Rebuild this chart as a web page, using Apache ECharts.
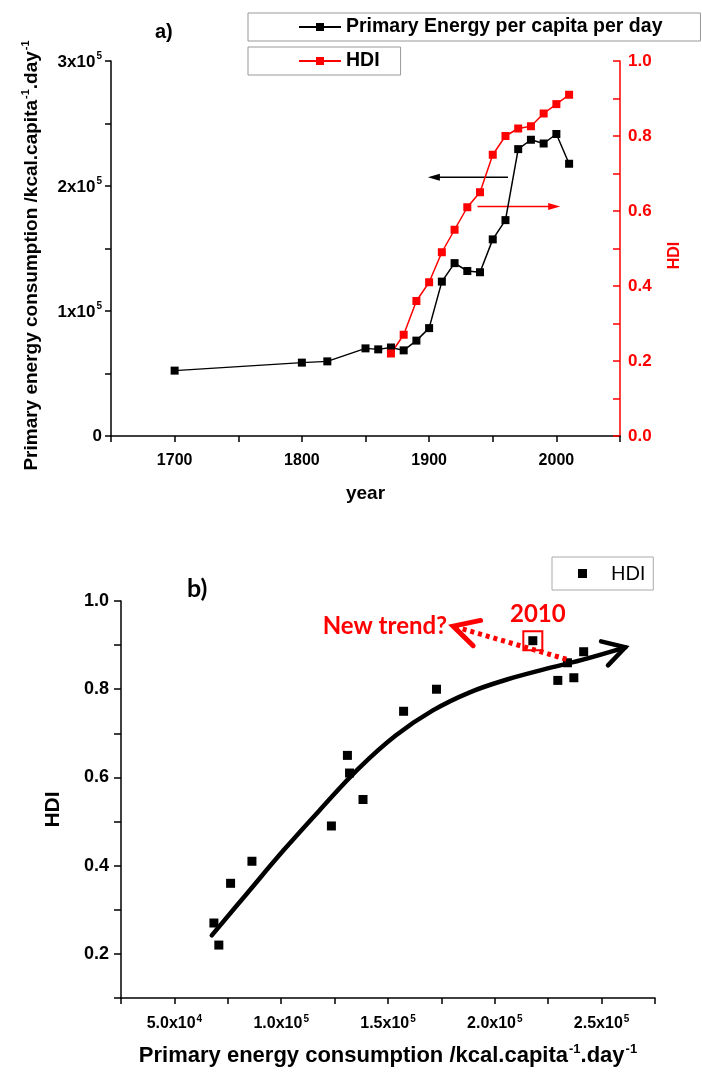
<!DOCTYPE html>
<html>
<head>
<meta charset="utf-8">
<script src="https://cdn.jsdelivr.net/npm/echarts@6/dist/echarts.min.js"></script>
<style>
  html, body { margin: 0; padding: 0; background: #ffffff; }
  #chart { width: 702px; height: 1077px; }
</style>
</head>
<body>
<div id="chart"></div>
<script>
// Primary energy use per capita per day (kcal), by year
const years  = [1700, 1800, 1820, 1850, 1860, 1870, 1880, 1890, 1900, 1910, 1920, 1930, 1940, 1950, 1960, 1970, 1980, 1990, 2000, 2010];
const energy = [52300, 58700, 59700, 70100, 69300, 70800, 68500, 76300, 86300, 123500, 138300, 132000, 131000, 157300, 172700, 229500, 237000, 234000, 241600, 217800];

// Human Development Index, by year
const hdiYears = [1870, 1880, 1890, 1900, 1910, 1920, 1930, 1940, 1950, 1960, 1970, 1980, 1990, 2000, 2010];
const hdi      = [0.22, 0.27, 0.36, 0.41, 0.49, 0.55, 0.61, 0.65, 0.75, 0.80, 0.82, 0.826, 0.86, 0.885, 0.91];

// Hand-drawn trend through the HDI vs energy cloud
const trendX = [67500, 84000, 101500, 118800, 136200, 153600, 171000, 188300, 205700, 223000, 240400, 261100];
const trendY = [0.242, 0.337, 0.437, 0.530, 0.620, 0.695, 0.752, 0.793, 0.822, 0.845, 0.866, 0.895];

// Annotation arrows (data units): [tail, tip]
const energyArrow   = [[1962, 207000], [1899, 207000]];
const hdiArrow      = [[1938, 0.612], [2003, 0.612]];
const newTrendArrow = [[233500, 0.868], [180500, 0.943]];
const newTrendText  = 'New trend?';
const highlightYear = 2010;

// Axis tick labels
const yearLabels = [1700, 1800, 1900, 2000];

const SANS = '"Liberation Sans", Arial, sans-serif';
const HUMANIST = 'Lato, "Open Sans", sans-serif';
const RED = '#ff0000';

const energySeries = years.map((y, i) => [y, energy[i]]);
const hdiSeries = hdiYears.map((y, i) => [y, hdi[i]]);
const scatterPairs = hdiYears.map((y, i) => [energy[years.indexOf(y)], hdi[i], y]);
const highlightPair = scatterPairs.filter(p => p[2] === highlightYear);
const trendSeries = trendX.map((x, i) => [x, trendY[i]]);
const nT = trendSeries.length;

function sciLabel(v, digits) {
  if (v === 0) return '0';
  const e = Math.floor(Math.log10(v) + 1e-9);
  const m = v / Math.pow(10, e);
  return '{b|' + m.toFixed(digits) + 'x10}{s|' + e + '}';
}

// Rich styles: "b" main text, "s" raised superscript
function supRich(size, supSize, color, lift) {
  return {
    b: { fontFamily: SANS, fontWeight: 'bold', fontSize: size, lineHeight: size + lift, color: color, verticalAlign: 'bottom' },
    s: { fontFamily: SANS, fontWeight: 'bold', fontSize: supSize, lineHeight: supSize, color: color, verticalAlign: 'top', padding: [0, 0, 0, 1] }
  };
}

// Straight arrow with a narrow filled head
function arrowLine(color, width, headLen, headHalf) {
  return function (params, api) {
    const a = api.coord([api.value(0), api.value(1)]);
    const b = api.coord([api.value(2), api.value(3)]);
    const ang = Math.atan2(b[1] - a[1], b[0] - a[0]);
    const ux = Math.cos(ang), uy = Math.sin(ang);
    const base = [b[0] - headLen * ux, b[1] - headLen * uy];
    const p1 = [base[0] - headHalf * uy, base[1] + headHalf * ux];
    const p2 = [base[0] + headHalf * uy, base[1] - headHalf * ux];
    return {
      type: 'group', children: [
        { type: 'line', shape: { x1: a[0], y1: a[1], x2: base[0] + 2 * ux, y2: base[1] + 2 * uy }, style: { stroke: color, lineWidth: width } },
        { type: 'polygon', shape: { points: [b, p1, p2] }, style: { fill: color } }
      ]
    };
  };
}

// Open chevron drawn at the end of a segment, pointing along it
function chevron(color, width, len, spread, text) {
  return function (params, api) {
    const tail = api.coord([api.value(0), api.value(1)]);
    const tip = api.coord([api.value(2), api.value(3)]);
    const back = Math.atan2(tail[1] - tip[1], tail[0] - tip[0]);
    const arm = s => [tip[0] + len * Math.cos(back + s), tip[1] + len * Math.sin(back + s)];
    const children = [{
      type: 'polyline',
      shape: { points: [arm(spread), tip, arm(-spread)] },
      style: { stroke: color, lineWidth: width, fill: null, lineCap: 'round', lineJoin: 'miter' }
    }];
    if (text) {
      children.push({
        type: 'text', x: tip[0] - 6, y: tip[1],
        style: { text: text, fill: color, fontFamily: HUMANIST, fontWeight: 'bold', fontSize: 24, align: 'right', verticalAlign: 'middle' }
      });
    }
    return { type: 'group', children: children };
  };
}

const axisBlack = { show: true, lineStyle: { color: '#000', width: 1.5 } };
const tickBlack = { show: true, length: 6, lineStyle: { color: '#000', width: 1.5 } };
const energyTitle = '{b|Primary energy consumption /kcal.capita}{s|-1}{b|.day}{s|-1}';

const option = {
  animation: false,
  backgroundColor: '#ffffff',
  title: [
    { text: 'a)', left: 155, top: 22, padding: 0, textStyle: { fontFamily: SANS, fontWeight: 'bold', fontSize: 20, color: '#000' } },
    { text: 'b)', left: 187, top: 576, padding: 0, textStyle: { fontFamily: HUMANIST, fontWeight: 'bold', fontSize: 25, color: '#000' } }
  ],
  legend: [
    {
      data: ['Primary Energy per capita per day'], left: 248, top: 13, orient: 'horizontal',
      padding: [4, 38, 4, 50], borderColor: '#999', borderWidth: 1, selectedMode: false,
      itemWidth: 42, itemHeight: 10,
      textStyle: { fontFamily: SANS, fontWeight: 'bold', fontSize: 19.5, color: '#000' }
    },
    {
      data: ['HDI'], left: 248, top: 47,
      padding: [4, 21, 4, 50], borderColor: '#999', borderWidth: 1, selectedMode: false,
      itemWidth: 42, itemHeight: 10,
      textStyle: { fontFamily: SANS, fontWeight: 'bold', fontSize: 19.5, color: '#000' }
    },
    {
      data: [{ name: 'HDI vs energy', icon: 'rect' }], left: 552, top: 557,
      padding: [7, 8, 7, 26], borderColor: '#aaa', borderWidth: 1, selectedMode: false,
      itemWidth: 9, itemHeight: 9,
      formatter: () => 'HDI',
      textStyle: { fontFamily: HUMANIST, fontSize: 19, color: '#000', padding: [0, 0, 0, 19] }
    }
  ],
  grid: [
    { left: 111, right: 82, top: 61, bottom: 641 },
    { left: 121, right: 47, top: 601, bottom: 79 }
  ],
  xAxis: [
    {
      gridIndex: 0, type: 'value', min: 1650, max: 2050, interval: 50,
      name: 'year', nameLocation: 'middle', nameGap: 48,
      nameTextStyle: { fontFamily: SANS, fontWeight: 'bold', fontSize: 19, color: '#000' },
      axisLine: axisBlack, axisTick: tickBlack, splitLine: { show: false },
      axisLabel: {
        margin: 17, fontFamily: SANS, fontWeight: 'bold', fontSize: 16, color: '#000',
        formatter: v => yearLabels.indexOf(v) >= 0 ? String(v) : ''
      }
    },
    {
      gridIndex: 1, type: 'value', min: 25000, max: 275000, interval: 25000,
      name: energyTitle, nameLocation: 'middle', nameGap: 45,
      nameTextStyle: { color: '#000', rich: supRich(22, 13, '#000', 2) },
      axisLine: axisBlack, axisTick: tickBlack, splitLine: { show: false },
      axisLabel: {
        margin: 16, color: '#000', rich: supRich(16, 10, '#000', 2),
        formatter: v => (Math.round(v) % 50000 === 0) ? sciLabel(v, 1) : ''
      }
    }
  ],
  yAxis: [
    {
      gridIndex: 0, type: 'value', min: 0, max: 300000, interval: 50000,
      name: energyTitle, nameLocation: 'middle', nameGap: 70,
      nameTextStyle: { color: '#000', padding: [0, 14, 0, 0], rich: supRich(19, 11, '#000', 2) },
      axisLine: axisBlack, axisTick: tickBlack, splitLine: { show: false },
      axisLabel: {
        margin: 9, color: '#000', fontFamily: SANS, fontWeight: 'bold', fontSize: 17, rich: supRich(17, 10, '#000', 2),
        formatter: v => (Math.round(v) % 100000 === 0) ? sciLabel(v, 0) : ''
      }
    },
    {
      gridIndex: 0, type: 'value', position: 'right', min: 0, max: 1, interval: 0.1,
      name: 'HDI', nameLocation: 'middle', nameGap: 47,
      nameTextStyle: { fontFamily: SANS, fontWeight: 'bold', fontSize: 16, color: RED, padding: [0, 14, 0, 0] },
      axisLine: { show: true, lineStyle: { color: RED, width: 1.5 } },
      axisTick: { show: true, inside: true, length: 7, lineStyle: { color: RED, width: 1.5 } },
      splitLine: { show: false },
      axisLabel: {
        margin: 8, fontFamily: SANS, fontWeight: 'bold', fontSize: 17, color: RED,
        formatter: v => (Math.round(v * 10) % 2 === 0) ? v.toFixed(1) : ''
      }
    },
    {
      gridIndex: 1, type: 'value', min: 0.1, max: 1.0, interval: 0.1,
      name: 'HDI', nameLocation: 'middle', nameGap: 57,
      nameTextStyle: { fontFamily: SANS, fontWeight: 'bold', fontSize: 21, color: '#000', padding: [0, 20, 0, 0] },
      axisLine: axisBlack, axisTick: { show: true, length: 7, lineStyle: { color: '#000', width: 1.5 } },
      splitLine: { show: false },
      axisLabel: {
        margin: 12, fontFamily: SANS, fontWeight: 'bold', fontSize: 18, color: '#000',
        formatter: v => (Math.round(v * 10) % 2 === 0) ? v.toFixed(1) : ''
      }
    }
  ],
  series: [
    {
      name: 'Primary Energy per capita per day', type: 'line', xAxisIndex: 0, yAxisIndex: 0,
      data: energySeries, symbol: 'rect', symbolSize: 8,
      itemStyle: { color: '#000' }, lineStyle: { color: '#000', width: 1.5 }
    },
    {
      name: 'HDI', type: 'line', xAxisIndex: 0, yAxisIndex: 1,
      data: hdiSeries, symbol: 'rect', symbolSize: 8,
      itemStyle: { color: RED }, lineStyle: { color: RED, width: 1.5 }
    },
    {
      name: 'energy axis arrow', type: 'custom', xAxisIndex: 0, yAxisIndex: 0, silent: true, clip: false,
      renderItem: arrowLine('#000', 1.5, 12, 3.5), encode: { x: [0, 2], y: [1, 3] },
      data: [[energyArrow[0][0], energyArrow[0][1], energyArrow[1][0], energyArrow[1][1]]]
    },
    {
      name: 'HDI axis arrow', type: 'custom', xAxisIndex: 0, yAxisIndex: 1, silent: true, clip: false,
      renderItem: arrowLine(RED, 1.5, 12, 3.5), encode: { x: [0, 2], y: [1, 3] },
      data: [[hdiArrow[0][0], hdiArrow[0][1], hdiArrow[1][0], hdiArrow[1][1]]]
    },
    {
      name: 'trend', type: 'line', xAxisIndex: 1, yAxisIndex: 2, silent: true,
      data: trendSeries, smooth: 0.4, symbol: 'none',
      lineStyle: { color: '#000', width: 4.5, cap: 'round', join: 'round' }, z: 2
    },
    {
      name: 'trend head', type: 'custom', xAxisIndex: 1, yAxisIndex: 2, silent: true, clip: false,
      renderItem: chevron('#000', 4.5, 25, Math.PI / 6),
      encode: { x: [0, 2], y: [1, 3] },
      data: [[trendSeries[nT - 2][0], trendSeries[nT - 2][1], trendSeries[nT - 1][0], trendSeries[nT - 1][1]]], z: 2
    },
    {
      name: 'HDI vs energy', type: 'scatter', xAxisIndex: 1, yAxisIndex: 2,
      data: scatterPairs, symbol: 'rect', symbolSize: 9,
      itemStyle: { color: '#000', opacity: 1 }, z: 3
    },
    {
      name: 'new trend', type: 'line', xAxisIndex: 1, yAxisIndex: 2, silent: true,
      data: newTrendArrow, symbol: 'none',
      lineStyle: { color: RED, width: 5, type: [4, 4], cap: 'butt' }, z: 4
    },
    {
      name: 'new trend head', type: 'custom', xAxisIndex: 1, yAxisIndex: 2, silent: true, clip: false,
      renderItem: chevron(RED, 5, 28, 0.49, newTrendText),
      encode: { x: [0, 2], y: [1, 3] },
      data: [[newTrendArrow[0][0], newTrendArrow[0][1], newTrendArrow[1][0], newTrendArrow[1][1]]], z: 4
    },
    {
      name: 'highlight', type: 'scatter', xAxisIndex: 1, yAxisIndex: 2, silent: true,
      data: highlightPair, symbol: 'rect', symbolSize: 19,
      itemStyle: { color: 'rgba(0,0,0,0)', borderColor: RED, borderWidth: 2, opacity: 1 },
      label: {
        show: true, position: 'top', distance: 4, offset: [5, 0],
        formatter: p => String(p.data[2]),
        fontFamily: HUMANIST, fontWeight: 'bold', fontSize: 24, color: RED
      }, z: 5
    }
  ]
};

const chart = echarts.init(document.getElementById('chart'), null, { renderer: 'canvas' });
chart.setOption(option);
</script>
</body>
</html>
